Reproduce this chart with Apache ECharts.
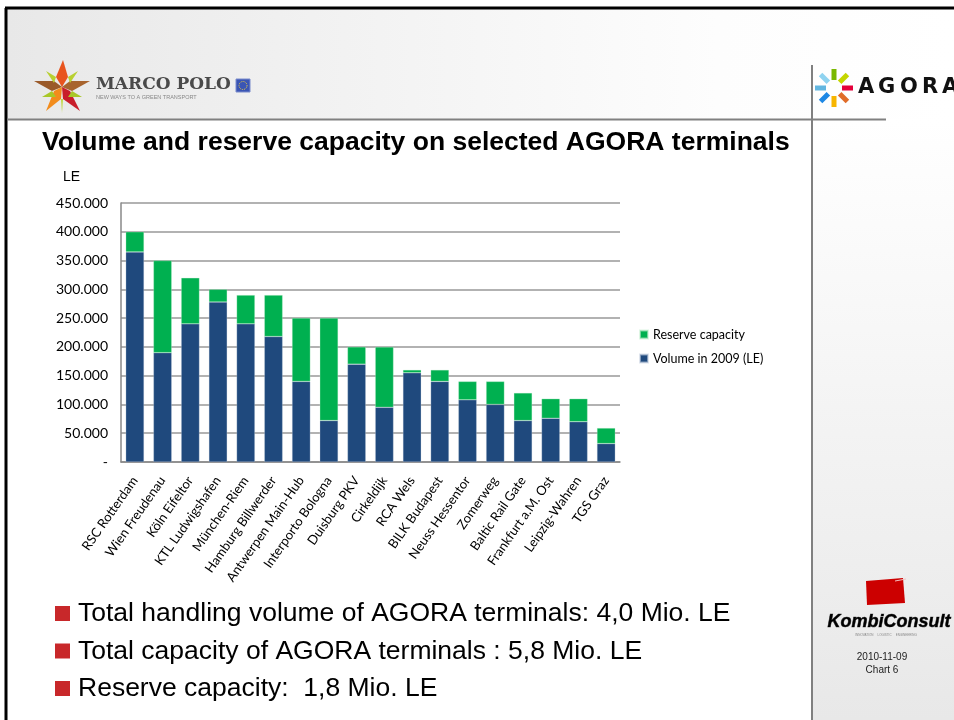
<!DOCTYPE html>
<html>
<head>
<meta charset="UTF-8">
<title>AGORA terminals</title>
<style>
  html, body { margin: 0; padding: 0; background: #fff; }
  #main { width: 954px; height: 720px; }
</style>
</head>
<body>
<div id="main"></div>
<script src="https://cdn.jsdelivr.net/npm/echarts@6/dist/echarts.min.js"></script>
<script type="text/javascript">
// data (LE)
var terminals = ['RSC Rotterdam', 'Wien Freudenau', 'Köln Eifeltor', 'KTL Ludwigshafen', 'München-Riem',
  'Hamburg Billwerder', 'Antwerpen Main-Hub', 'Interporto Bologna', 'Duisburg PKV', 'Cirkeldijk',
  'RCA Wels', 'BILK Budapest', 'Neuss Hessentor', 'Zomerweg', 'Baltic Rail Gate',
  'Frankfurt a.M. Ost', 'Leipzig-Wahren', 'TGS Graz'];
var volume2009 = [365000, 190000, 240000, 278000, 240000, 218000, 140000, 72000, 170000, 95000,
  155000, 140000, 108000, 100000, 72000, 76000, 70000, 32000];
var reserve = [35000, 160000, 80000, 22000, 50000, 72000, 110000, 178000, 30000, 105000,
  5000, 20000, 32000, 40000, 48000, 34000, 40000, 27000];
var bullets = ['Total handling volume of AGORA terminals: 4,0 Mio. LE',
  'Total capacity of AGORA terminals : 5,8 Mio. LE',
  'Reserve capacity:  1,8 Mio. LE'];

var chart = echarts.init(document.getElementById('main'));

function fmt(v) {
  if (v === 0) return '-';
  return String(v).replace(/\B(?=(\d{3})+(?!\d))/g, '.');
}

// slide decoration
var deco = [];
// header band
deco.push({ type: 'rect', z: -10, shape: { x: 7, y: 9, width: 947, height: 110 },
  style: { fill: new echarts.graphic.LinearGradient(0, 0, 1, 0, [{ offset: 0, color: '#e8e8e8' }, { offset: 0.75, color: '#fdfdfd' }, { offset: 1, color: '#ffffff' }]) } });
// right panel
deco.push({ type: 'rect', z: -10, shape: { x: 813, y: 120, width: 141, height: 600 },
  style: { fill: new echarts.graphic.LinearGradient(0, 0, 0, 1, [{ offset: 0, color: '#ffffff' }, { offset: 1, color: '#e8e8e8' }]) } });
// frame
deco.push({ type: 'line', shape: { x1: 5, y1: 8, x2: 954, y2: 8 }, style: { stroke: '#000', lineWidth: 3 } });
deco.push({ type: 'line', shape: { x1: 6, y1: 8, x2: 6, y2: 720 }, style: { stroke: '#000', lineWidth: 3 } });
deco.push({ type: 'line', shape: { x1: 7, y1: 119.5, x2: 886, y2: 119.5 }, style: { stroke: '#808080', lineWidth: 2 } });
deco.push({ type: 'line', shape: { x1: 812, y1: 65, x2: 812, y2: 720 }, style: { stroke: '#808080', lineWidth: 2 } });

// Marco Polo star
var cx = 62, cy = 87;
var star = [
  [[cx, cy], [cx - 6, cy - 10], [cx + 1, cy - 27], [cx + 6, cy - 10], '#e8541e'],
  [[cx, cy], [cx - 8, cy - 6], [cx - 28, cy - 6], [cx - 10, cy + 4], '#9a5a2a'],
  [[cx, cy], [cx + 8, cy - 6], [cx + 28, cy - 6], [cx + 10, cy + 4], '#a8642e'],
  [[cx, cy], [cx - 8, cy + 4], [cx - 16, cy + 24], [cx - 1, cy + 12], '#f28c1c'],
  [[cx, cy], [cx + 8, cy + 4], [cx + 18, cy + 24], [cx + 1, cy + 12], '#c81e2a'],
  [[cx - 6, cy - 10], [cx - 16, cy - 16], [cx - 8, cy - 4], '#b8d030'],
  [[cx + 6, cy - 10], [cx + 16, cy - 16], [cx + 8, cy - 4], '#b8d030'],
  [[cx - 10, cy + 4], [cx - 20, cy + 10], [cx - 6, cy + 10], '#a8c828'],
  [[cx + 10, cy + 4], [cx + 20, cy + 10], [cx + 6, cy + 10], '#a8c828'],
  [[cx - 1, cy + 12], [cx, cy + 26], [cx + 1, cy + 12], '#c0d840']
];
star.forEach(function (p) {
  var col = p[p.length - 1];
  deco.push({ type: 'polygon', shape: { points: p.slice(0, p.length - 1) }, style: { fill: col } });
});
deco.push({ type: 'text', x: 96, y: 85, style: { text: 'MARCO POLO', fill: '#4a4a4a', font: 'bold 17px "DejaVu Serif"', textVerticalAlign: 'middle' } });
deco.push({ type: 'rect', shape: { x: 236, y: 79, width: 14, height: 13 }, style: { fill: '#3a55b4', stroke: '#7a8ccc', lineWidth: 1 } });
deco.push({ type: 'circle', shape: { cx: 243, cy: 85.5, r: 4 }, style: { fill: 'none', stroke: '#f0d040', lineWidth: 1, lineDash: [1, 1] } });
deco.push({ type: 'text', x: 96, y: 97, style: { text: 'NEW WAYS TO A GREEN TRANSPORT', fill: '#888', font: '5.5px "Liberation Sans"', textVerticalAlign: 'middle' } });

// AGORA logo
var ax = 834, ay = 88;
var spokes = ['#7ab800', '#c4d600', '#e4003a', '#e06c28', '#f7b500', '#1e88e5', '#62b6e0', '#8fd3f0'];
spokes.forEach(function (c, i) {
  deco.push({ type: 'rect', x: ax, y: ay, rotation: -i * Math.PI / 4,
    shape: { x: -2.5, y: -19, width: 5, height: 11 }, style: { fill: c } });
});
var agora = ['A', 'G', 'O', 'R', 'A'];
var agoraX = [858, 878, 900, 922, 942];
agora.forEach(function (l, i) {
  deco.push({ type: 'text', x: agoraX[i], y: 88, style: { text: l, fill: '#111', font: 'bold 21px "DejaVu Sans"', textVerticalAlign: 'middle' } });
});

// KombiConsult
deco.push({ type: 'polygon', shape: { points: [[866, 581], [903, 578], [905, 603], [867, 605]] }, style: { fill: '#cc0000' } });
deco.push({ type: 'line', shape: { x1: 895, y1: 581, x2: 906, y2: 579 }, style: { stroke: '#f4c0c0', lineWidth: 1 } });
deco.push({ type: 'text', x: 889, y: 622, style: { text: 'KombiConsult', fill: '#000', font: 'italic bold 18px "Liberation Sans"', textAlign: 'center', textVerticalAlign: 'middle', stroke: '#444', lineWidth: 0.6 } });
deco.push({ type: 'text', x: 886, y: 635, style: { text: 'INNOVATION     LOGISTIC     ENGINEERING', fill: '#888', font: '3px "Liberation Sans"', textAlign: 'center', textVerticalAlign: 'middle' } });
deco.push({ type: 'text', x: 882, y: 657, style: { text: '2010-11-09', fill: '#222', font: '10px "Liberation Sans"', textAlign: 'center', textVerticalAlign: 'middle' } });
deco.push({ type: 'text', x: 882, y: 670, style: { text: 'Chart 6', fill: '#222', font: '10px "Liberation Sans"', textAlign: 'center', textVerticalAlign: 'middle' } });

// title and axis unit
deco.push({ type: 'text', x: 42, y: 143, style: { text: 'Volume and reserve capacity on selected AGORA terminals', fill: '#000', font: 'bold 26.5px "Liberation Sans"', textVerticalAlign: 'middle' } });
deco.push({ type: 'text', x: 63, y: 177, style: { text: 'LE', fill: '#000', font: '14px "Liberation Sans"', textVerticalAlign: 'middle' } });

// bullet list
bullets.forEach(function (t, i) {
  var y = 614 + i * 37.5;
  deco.push({ type: 'rect', shape: { x: 55, y: y - 8, width: 15, height: 15 }, style: { fill: '#c8282a' } });
  deco.push({ type: 'text', x: 78, y: y, style: { text: t, fill: '#000', font: '26.5px "Liberation Sans"', textVerticalAlign: 'middle' } });
});

var option = {
  backgroundColor: '#fff',
  animation: false,
  legend: {
    orient: 'vertical',
    left: 634,
    top: 323,
    itemWidth: 8,
    itemHeight: 8,
    itemGap: 11,
    icon: 'rect',
    data: ['Reserve capacity', 'Volume in 2009 (LE)'],
    textStyle: { fontFamily: 'Lato', fontSize: 12.5, color: '#000' }
  },
  grid: { left: 121, top: 203, width: 499, height: 259 },
  xAxis: {
    type: 'category',
    data: terminals,
    axisTick: { show: false },
    axisLine: { lineStyle: { color: '#888', width: 1.5 } },
    axisLabel: { rotate: 55, interval: 0, margin: 16, fontFamily: 'Lato', fontSize: 13, color: '#000' }
  },
  yAxis: {
    type: 'value',
    min: 0,
    max: 450000,
    interval: 50000,
    axisLine: { show: true, lineStyle: { color: '#888', width: 1.5 } },
    axisTick: { show: false },
    splitLine: { lineStyle: { color: '#999', width: 1.5 } },
    axisLabel: { formatter: fmt, margin: 13, fontFamily: 'Lato', fontSize: 14, color: '#000' }
  },
  series: [{
    name: 'Volume in 2009 (LE)',
    type: 'bar',
    stack: 'cap',
    data: volume2009,
    barWidth: '66%',
    itemStyle: { color: '#1f497d', borderColor: 'rgba(200,210,225,0.6)', borderWidth: 0.5 }
  }, {
    name: 'Reserve capacity',
    type: 'bar',
    stack: 'cap',
    data: reserve,
    barWidth: '66%',
    itemStyle: { color: '#00b050', borderColor: 'rgba(200,240,210,0.6)', borderWidth: 0.5 }
  }],
  graphic: deco
};
chart.setOption(option);
</script>
</body>
</html>
